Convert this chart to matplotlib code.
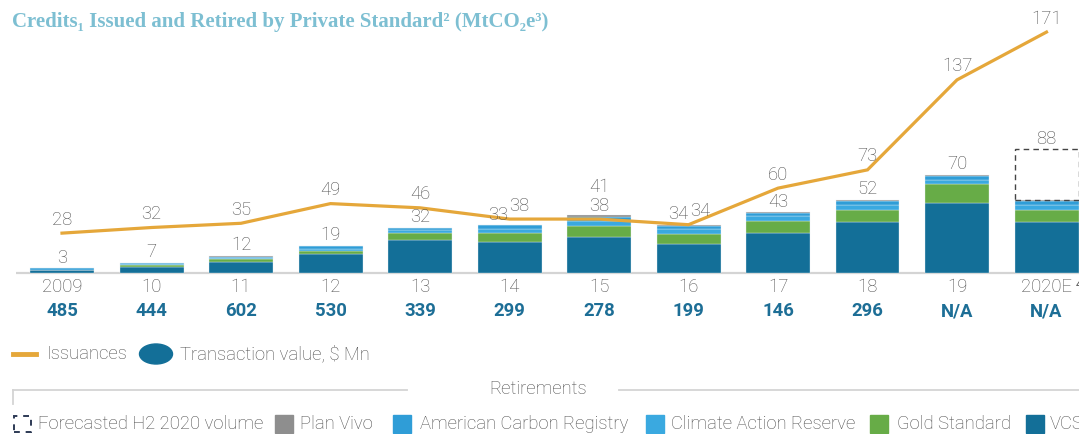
import matplotlib.pyplot as plt
from matplotlib.patches import Ellipse, Rectangle
from matplotlib.lines import Line2D

# ------------------------------------------------------------------ #
# Data (MtCO2e)
# ------------------------------------------------------------------ #
years = ["2009", "10", "11", "12", "13", "14", "15", "16", "17", "18", "19", "2020E"]
issuances = [28, 32, 35, 49, 46, 38, 38, 34, 60, 73, 137, 171]
retired_labels = ["3", "7", "12", "19", "32", "33", "41", "34", "43", "52", "70", "88"]
transaction_value = ["485", "444", "602", "530", "339", "299", "278", "199", "146", "296", "N/A", "N/A"]

vcs = [1.5, 3.8, 7.8, 13.0, 22.8, 21.8, 24.9, 20.6, 28.4, 35.6, 49.5, 35.6]
gold_standard = [0.0, 1.4, 2.1, 2.4, 5.0, 6.0, 8.3, 7.1, 8.3, 9.2, 13.1, 9.2]
climate_action_reserve = [0.0, 1.0, 0.6, 1.6, 2.4, 3.0, 3.5, 3.0, 3.5, 3.0, 3.0, 3.0]
american_carbon_registry = [1.5, 0.8, 0.5, 1.5, 1.6, 2.7, 3.1, 2.4, 2.3, 2.9, 2.7, 2.9]
plan_vivo = [0.0, 0.0, 1.0, 0.5, 0.2, 0.2, 1.2, 0.9, 0.5, 1.2, 1.2, 1.2]
forecast_h2 = [0, 0, 0, 0, 0, 0, 0, 0, 0, 0, 0, 36]

# ------------------------------------------------------------------ #
# Style
# ------------------------------------------------------------------ #
C_VCS = "#136f98"
C_GS = "#67ac47"
C_CAR = "#3aa9e0"
C_ACR = "#2f9dd7"
C_PV = "#8e8e8e"
C_LINE = "#e5a73a"
C_TITLE = "#7dbfd2"
C_TEXT = "#4d4d4d"
C_VALUE = "#1d6e96"

plt.rcParams["font.family"] = ["Roboto", "DejaVu Sans"]
FS = 13.3

W, H = 1079, 434
fig = plt.figure(figsize=(W / 100, H / 100), dpi=100)
ax = fig.add_axes([0, 0, 1, 1])

# pixel layout: bar i centred at 62 + 89.5*i, baseline at y=272.5, 1.406 px per MtCO2e
step, x0, base, ppu = 89.5, 62.0, 272.5, 1.406
ax.set_xlim(-x0 / step, (W - x0) / step)
ax.set_ylim(-(H - base) / ppu, base / ppu)
ax.axis("off")

PT = 0.72  # px -> pt


def fx(px):
    return px / W


def fy(py):
    return 1 - py / H


xs = list(range(len(years)))
bw = 64 / step

bottom = [0.0] * len(years)
for vals, col in [
    (vcs, C_VCS),
    (gold_standard, C_GS),
    (climate_action_reserve, C_CAR),
    (american_carbon_registry, C_ACR),
    (plan_vivo, C_PV),
]:
    ax.bar(xs, vals, bw, bottom=bottom, color=col, edgecolor="#e8f1f5", linewidth=0.25, zorder=2)
    bottom = [b + v for b, v in zip(bottom, vals)]

# forecast box (dashed)
fc = [(x, b, f) for x, b, f in zip(xs, bottom, forecast_h2) if f > 0]
ax.bar([x for x, _, _ in fc], [f for _, _, f in fc], bw, bottom=[b for _, b, _ in fc],
       fill=False, edgecolor="#444444", linestyle=(0, (4, 3)), linewidth=1.0, zorder=2)
tops = [b + f for b, f in zip(bottom, forecast_h2)]

# baseline
ax.hlines(0, (16 - x0) / step, (W - x0) / step, color="#d4d4d4", linewidth=1.6, zorder=1)

# issuance line
ax.plot(xs, issuances, color=C_LINE, linewidth=2.3, solid_joinstyle="miter", zorder=3)

# label tweaks where bar and line labels collide
bar_dx = {5: -11.5, 7: -10.5}
line_dx = {5: 9.5, 7: 11.5}
bar_dy = {6: 27.6}

for i in xs:
    ax.annotate(str(issuances[i]), (i, issuances[i]),
                xytext=(line_dx.get(i, 0) * PT, 13.5 * PT), textcoords="offset points",
                ha="center", va="center", fontsize=FS, color=C_TEXT, fontweight="light", zorder=4)
    ax.annotate(retired_labels[i], (i, tops[i]),
                xytext=(bar_dx.get(i, 0) * PT, bar_dy.get(i, 10.3) * PT), textcoords="offset points",
                ha="center", va="center", fontsize=FS, color=C_TEXT, fontweight="light", zorder=4)
    ax.annotate(years[i], (i, 0), xytext=(0, -14.5 * PT), textcoords="offset points",
                ha="center", va="center", fontsize=FS, color=C_TEXT, fontweight="light")
    ax.annotate(transaction_value[i], (i, 0), xytext=(0, -39 * PT), textcoords="offset points",
                ha="center", va="center", fontsize=FS, color=C_VALUE, fontweight="bold")

# footnote marker after 2020E
ax.annotate("4", (xs[-1], 0), xytext=(29 * PT, -12 * PT), textcoords="offset points",
            ha="left", va="center", fontsize=8, color=C_TEXT)

# ------------------------------------------------------------------ #
# Title
# ------------------------------------------------------------------ #
fig.text(fx(12), fy(22), "Credits\u2081 Issued and Retired by Private Standard\u00b2 (MtCO\u2082e\u00b3)",
         family=["Liberation Serif", "DejaVu Serif"], fontweight="bold", fontsize=15,
         color=C_TITLE, ha="left", va="center")

# ------------------------------------------------------------------ #
# Legend (manual, pixel placed)
# ------------------------------------------------------------------ #
ly1 = 354
fig.add_artist(Line2D([fx(13), fx(36)], [fy(ly1), fy(ly1)], color=C_LINE, linewidth=3.5,
                      transform=fig.transFigure))
fig.text(fx(47), fy(ly1), "Issuances", fontsize=FS, color=C_TEXT, fontweight="light",
         ha="left", va="center")
fig.add_artist(Ellipse((fx(156), fy(ly1)), fx(33), 20 / H, color=C_VCS, transform=fig.transFigure))
fig.text(fx(180), fy(ly1), "Transaction value, $ Mn", fontsize=FS, color=C_TEXT, fontweight="light",
         ha="left", va="center")

ly2 = 390
fig.add_artist(Line2D([fx(13), fx(407)], [fy(ly2), fy(ly2)], color="#d4d4d4", linewidth=1.3,
                      transform=fig.transFigure))
fig.add_artist(Line2D([fx(13), fx(13)], [fy(ly2), fy(404)], color="#d4d4d4", linewidth=1.3,
                      transform=fig.transFigure))
fig.add_artist(Line2D([fx(619), fx(W)], [fy(ly2), fy(ly2)], color="#d4d4d4", linewidth=1.3,
                      transform=fig.transFigure))
fig.text(fx(538), fy(ly2 - 1), "Retirements", fontsize=FS, color=C_TEXT, fontweight="light",
         ha="center", va="center")

ly3 = 424
fig.add_artist(Rectangle((fx(14), fy(ly3 + 8)), fx(17), 16 / H, fill=False, edgecolor="#2d3a55",
                         linestyle=(0, (3, 3)), linewidth=1.4, transform=fig.transFigure))
fig.text(fx(38), fy(ly3), "Forecasted H2 2020 volume", fontsize=FS, color=C_TEXT,
         fontweight="light", ha="left", va="center")

legend_items = [
    ("Plan Vivo", C_PV, 275, 300),
    ("American Carbon Registry", C_ACR, 393, 420),
    ("Climate Action Reserve", C_CAR, 646, 671),
    ("Gold Standard", C_GS, 870, 897),
    ("VCS", C_VCS, 1026, 1050),
]
for name, col, sx, tx in legend_items:
    fig.add_artist(Rectangle((fx(sx), fy(ly3 + 9)), fx(18), 18 / H, color=col,
                             transform=fig.transFigure))
    fig.text(fx(tx), fy(ly3), name, fontsize=FS, color=C_TEXT, fontweight="light",
             ha="left", va="center")

fig.savefig("out.png", dpi=100)
